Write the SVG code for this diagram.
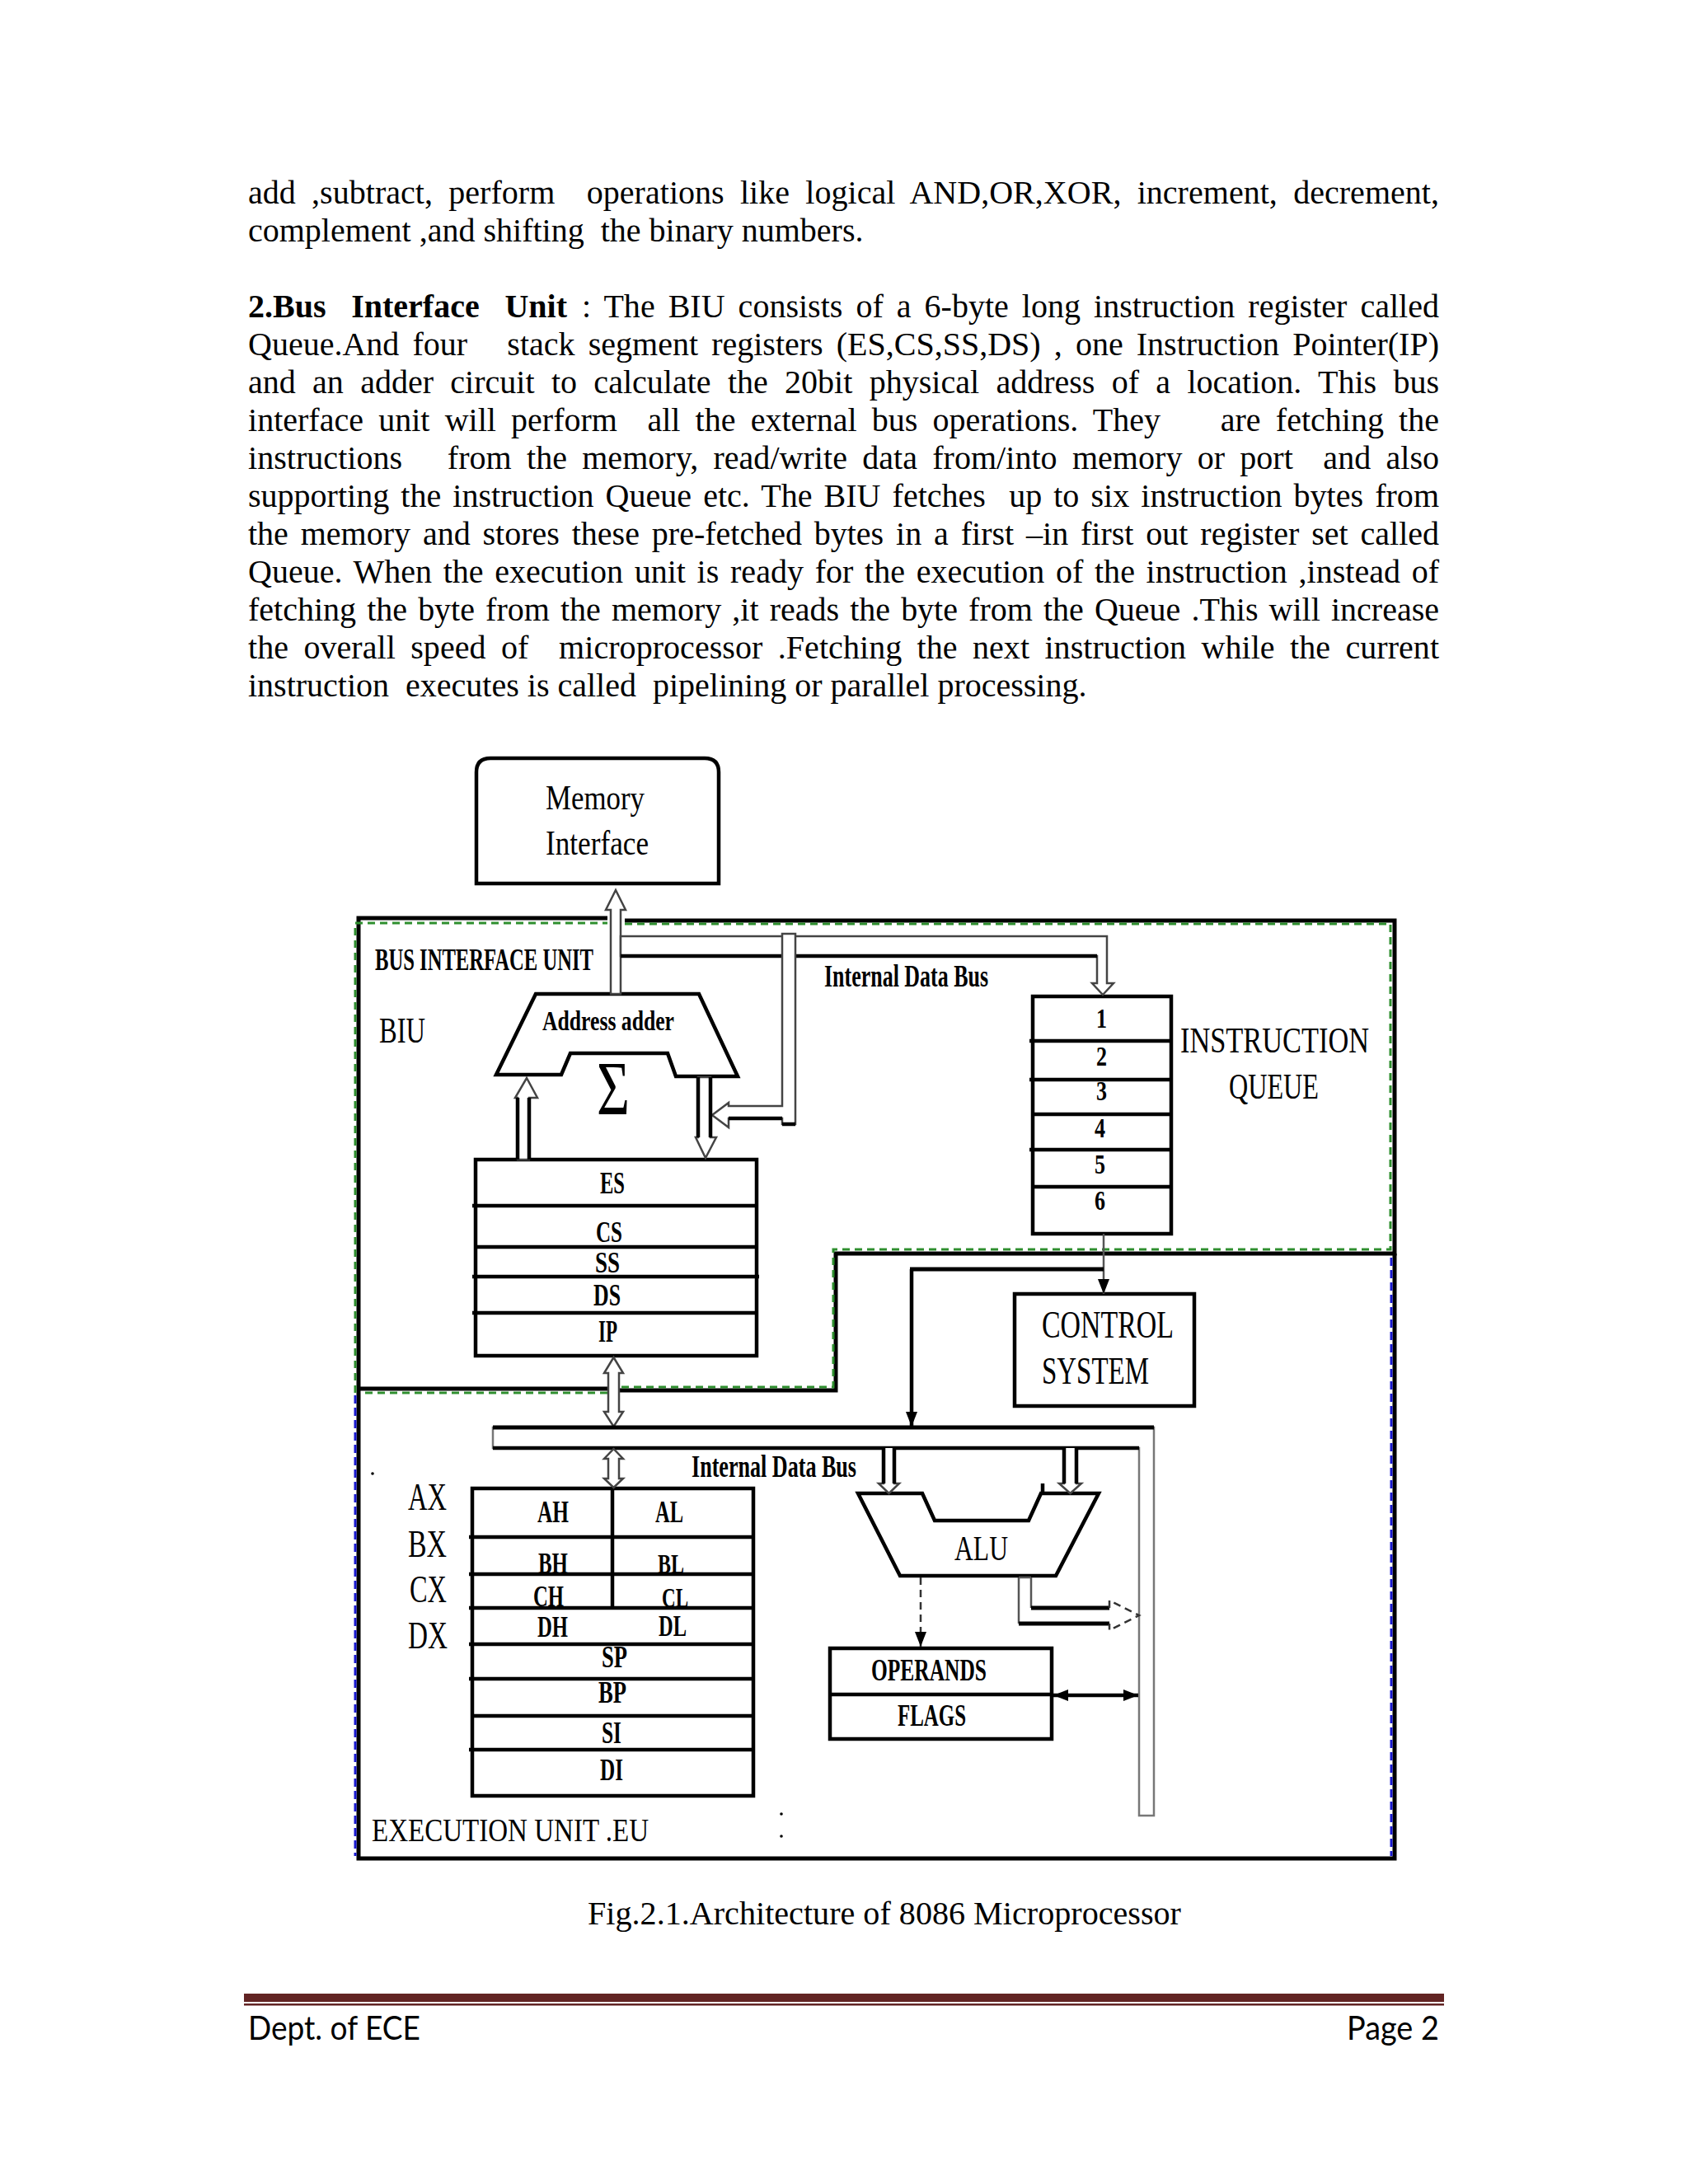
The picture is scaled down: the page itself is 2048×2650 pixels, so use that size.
<svg xmlns="http://www.w3.org/2000/svg" width="2048" height="2650" viewBox="0 0 2048 2650">
<style>
.p{font-family:"Liberation Serif","Times New Roman",serif;font-size:40px;fill:#000;white-space:pre}
.pb{font-weight:bold}
.ft{font-family:Lato,"Liberation Sans",sans-serif;font-size:40px;fill:#000}
.b{font-family:"Liberation Serif","Times New Roman",serif;font-weight:bold;fill:#000}
.r{font-family:"Liberation Serif","Times New Roman",serif;fill:#000}
.box{fill:#fff;stroke:#000;stroke-width:4.5}
.sep{stroke:#000;stroke-width:4.5;fill:none}
.edge{stroke:#000;stroke-width:5;fill:none}
.gd{stroke:#2f8f2f;stroke-width:3;stroke-dasharray:9 6;fill:none}
.bd{stroke:#1a1ad0;stroke-width:3;stroke-dasharray:10 5;fill:none}
.hol{fill:#fff;stroke:#444;stroke-width:2.5}
.thk{stroke:#000;stroke-width:4.5;fill:none}
.thin{stroke:#555;stroke-width:2.5;fill:none}
.dash{stroke:#333;stroke-width:2.5;stroke-dasharray:9 6;fill:none}
.dot{fill:#000}
</style>
<defs>
<marker id="fa" viewBox="0 0 18 14" refX="18" refY="7" markerWidth="18" markerHeight="14" markerUnits="userSpaceOnUse" orient="auto-start-reverse">
<path d="M0,0 L18,7 L0,14 Z" fill="#000"/>
</marker>
</defs>
<rect x="0" y="0" width="2048" height="2650" fill="#fff"/>

<g id="paragraph">
<text class="p" x="301" y="247" word-spacing="9.2" textLength="1445" lengthAdjust="spacing">add ,subtract, perform  operations like logical AND,OR,XOR, increment, decrement,</text>
<text class="p" x="301" y="293">complement ,and shifting  the binary numbers.</text>
<text class="p pb" x="301" y="385" word-spacing="20.7" textLength="387" lengthAdjust="spacing">2.Bus Interface Unit</text>
<text class="p" x="706" y="385" word-spacing="6" textLength="1040" lengthAdjust="spacing">: The BIU consists of a 6-byte long instruction register called</text>
<text class="p" x="301" y="431" word-spacing="6.1" textLength="1445" lengthAdjust="spacing">Queue.And four   stack segment registers (ES,CS,SS,DS) , one Instruction Pointer(IP)</text>
<text class="p" x="301" y="477" word-spacing="10.3" textLength="1445" lengthAdjust="spacing">and an adder circuit to calculate the 20bit physical address of a location. This bus</text>
<text class="p" x="301" y="523" word-spacing="8.2" textLength="1445" lengthAdjust="spacing">interface unit will perform  all the external bus operations. They    are fetching the</text>
<text class="p" x="301" y="569" word-spacing="8.2" textLength="1445" lengthAdjust="spacing">instructions   from the memory, read/write data from/into memory or port  and also</text>
<text class="p" x="301" y="615" word-spacing="4.1" textLength="1445" lengthAdjust="spacing">supporting the instruction Queue etc. The BIU fetches  up to six instruction bytes from</text>
<text class="p" x="301" y="661" word-spacing="4.9" textLength="1445" lengthAdjust="spacing">the memory and stores these pre-fetched bytes in a first –in first out register set called</text>
<text class="p" x="301" y="707" word-spacing="3.7" textLength="1445" lengthAdjust="spacing">Queue. When the execution unit is ready for the execution of the instruction ,instead of</text>
<text class="p" x="301" y="753" word-spacing="3.1" textLength="1445" lengthAdjust="spacing">fetching the byte from the memory ,it reads the byte from the Queue .This will increase</text>
<text class="p" x="301" y="799" word-spacing="8.3" textLength="1445" lengthAdjust="spacing">the overall speed of  microprocessor .Fetching the next instruction while the current</text>
<text class="p" x="301" y="845">instruction  executes is called  pipelining or parallel processing.</text>
</g>

<g id="unit-borders">
<path class="edge" d="M435,1685 L435,1114 L737,1114"/>
<path class="edge" d="M758,1117 L1692,1117 L1692,1521 L1014,1521 L1014,1687 L750,1687"/>
<path class="edge" d="M737,1685 L435,1685"/>
<path class="edge" d="M435,1685 L435,2255 L1692,2255 L1692,1521"/>
<path class="gd" d="M431,1690 L431,1120 L737,1120 M758,1121 L1687,1121 L1687,1516 L1011,1516 L1011,1683 L752,1683 M737,1690 L437,1690"/>
<path class="bd" d="M431,1693 L431,2252 M1688,1526 L1688,2252"/>
</g>

<g id="memory-interface">
<path class="box" d="M578,1072 L578,937 Q578,920 595,920 L855,920 Q872,920 872,937 L872,1072 Z"/>
<text class="r" x="662" y="982" font-size="43" textLength="120" lengthAdjust="spacingAndGlyphs">Memory</text>
<text class="r" x="662" y="1037" font-size="43" textLength="125" lengthAdjust="spacingAndGlyphs">Interface</text>
</g>

<g id="biu-labels">
<text class="b" x="455" y="1177" font-size="38" textLength="265" lengthAdjust="spacingAndGlyphs">BUS INTERFACE UNIT</text>
<text class="r" x="460" y="1265" font-size="45" textLength="56" lengthAdjust="spacingAndGlyphs">BIU</text>
<text class="b" x="1000" y="1197" font-size="37" textLength="199" lengthAdjust="spacingAndGlyphs">Internal Data Bus</text>
</g>

<g id="address-adder">
<path class="box" d="M650,1206 L848,1206 L895,1306 L820,1306 L810,1278 L692,1278 L681,1304 L602,1304 Z" stroke-linejoin="miter"/>
<text class="b" x="658" y="1250" font-size="34" textLength="160" lengthAdjust="spacingAndGlyphs">Address adder</text>
<text class="r" x="724" y="1352" font-size="94" textLength="40" lengthAdjust="spacingAndGlyphs">Σ</text>
</g>

<g id="instruction-queue">
<rect class="box" x="1253" y="1209" width="168" height="288"/>
<path class="sep" d="M1249,1263 L1421,1263 M1249,1310 L1421,1310 M1253,1352 L1421,1352 M1249,1395 L1421,1395 M1251,1440 L1421,1440"/>
<text class="b" x="1330" y="1247" font-size="34" textLength="13" lengthAdjust="spacingAndGlyphs">1</text>
<text class="b" x="1330" y="1293" font-size="34" textLength="13" lengthAdjust="spacingAndGlyphs">2</text>
<text class="b" x="1330" y="1335" font-size="34" textLength="13" lengthAdjust="spacingAndGlyphs">3</text>
<text class="b" x="1328" y="1380" font-size="34" textLength="13" lengthAdjust="spacingAndGlyphs">4</text>
<text class="b" x="1328" y="1424" font-size="34" textLength="13" lengthAdjust="spacingAndGlyphs">5</text>
<text class="b" x="1328" y="1468" font-size="34" textLength="13" lengthAdjust="spacingAndGlyphs">6</text>
<text class="r" x="1432" y="1277" font-size="45" textLength="229" lengthAdjust="spacingAndGlyphs">INSTRUCTION</text>
<text class="r" x="1491" y="1333" font-size="45" textLength="109" lengthAdjust="spacingAndGlyphs">QUEUE</text>
</g>

<g id="segment-registers">
<rect class="box" x="577" y="1407" width="341" height="238"/>
<path class="sep" d="M573,1463 L918,1463 M577,1513 L918,1513 M573,1549 L921,1549 M573,1593 L918,1593"/>
<text class="b" x="728" y="1448" font-size="38" textLength="30" lengthAdjust="spacingAndGlyphs">ES</text>
<text class="b" x="723" y="1507" font-size="36" textLength="32" lengthAdjust="spacingAndGlyphs">CS</text>
<text class="b" x="722" y="1544" font-size="36" textLength="30" lengthAdjust="spacingAndGlyphs">SS</text>
<text class="b" x="720" y="1584" font-size="38" textLength="33" lengthAdjust="spacingAndGlyphs">DS</text>
<text class="b" x="726" y="1628" font-size="38" textLength="23" lengthAdjust="spacingAndGlyphs">IP</text>
</g>

<g id="control-system">
<rect class="box" x="1231" y="1570" width="218" height="136"/>
<text class="r" x="1264" y="1623" font-size="47" textLength="160" lengthAdjust="spacingAndGlyphs">CONTROL</text>
<text class="r" x="1264" y="1679" font-size="47" textLength="130" lengthAdjust="spacingAndGlyphs">SYSTEM</text>
</g>

<g id="general-registers">
<text class="b" x="653" y="1909" font-size="35" textLength="36" lengthAdjust="spacingAndGlyphs">BH</text>
<text class="b" x="798" y="1909" font-size="34" textLength="32" lengthAdjust="spacingAndGlyphs">BL</text>
<text class="b" x="647" y="1949" font-size="35" textLength="37" lengthAdjust="spacingAndGlyphs">CH</text>
<text class="b" x="803" y="1950" font-size="34" textLength="32" lengthAdjust="spacingAndGlyphs">CL</text>
<rect x="573" y="1806" width="341" height="373" fill="none" stroke="#000" stroke-width="4.5"/>
<path class="sep" d="M569,1865 L914,1865 M569,1910 L914,1910 M569,1951 L914,1951 M569,1995 L914,1995 M569,2037 L914,2037 M573,2082 L914,2082 M569,2123 L914,2123 M743,1806 L743,1951"/>
<text class="b" x="652" y="1847" font-size="38" textLength="38" lengthAdjust="spacingAndGlyphs">AH</text>
<text class="b" x="795" y="1847" font-size="38" textLength="34" lengthAdjust="spacingAndGlyphs">AL</text>
<text class="b" x="652" y="1986" font-size="36" textLength="37" lengthAdjust="spacingAndGlyphs">DH</text>
<text class="b" x="799" y="1985" font-size="35" textLength="34" lengthAdjust="spacingAndGlyphs">DL</text>
<text class="b" x="730" y="2023" font-size="38" textLength="31" lengthAdjust="spacingAndGlyphs">SP</text>
<text class="b" x="726" y="2066" font-size="38" textLength="34" lengthAdjust="spacingAndGlyphs">BP</text>
<text class="b" x="730" y="2115" font-size="38" textLength="24" lengthAdjust="spacingAndGlyphs">SI</text>
<text class="b" x="728" y="2160" font-size="38" textLength="28" lengthAdjust="spacingAndGlyphs">DI</text>
<text class="r" x="495" y="1832" font-size="46" textLength="47" lengthAdjust="spacingAndGlyphs">AX</text>
<text class="r" x="495" y="1889" font-size="46" textLength="47" lengthAdjust="spacingAndGlyphs">BX</text>
<text class="r" x="497" y="1944" font-size="46" textLength="45" lengthAdjust="spacingAndGlyphs">CX</text>
<text class="r" x="495" y="2000" font-size="46" textLength="48" lengthAdjust="spacingAndGlyphs">DX</text>
</g>

<g id="alu">
<path class="box" d="M1041,1812 L1119,1812 L1134,1845 L1248,1845 L1263,1812 L1333,1812 L1281,1912 L1092,1912 Z"/>
<path class="thk" d="M1265,1800 L1265,1812" stroke-width="3"/>
<text class="r" x="1158" y="1893" font-size="43" textLength="65" lengthAdjust="spacingAndGlyphs">ALU</text>
</g>

<g id="operands-flags">
<rect class="box" x="1007" y="2000" width="269" height="110"/>
<path class="sep" d="M1007,2056 L1276,2056"/>
<text class="b" x="1057" y="2039" font-size="38" textLength="140" lengthAdjust="spacingAndGlyphs">OPERANDS</text>
<text class="b" x="1089" y="2094" font-size="38" textLength="83" lengthAdjust="spacingAndGlyphs">FLAGS</text>
</g>

<g id="eu-labels">
<text class="b" x="839" y="1792" font-size="37" textLength="200" lengthAdjust="spacingAndGlyphs">Internal Data Bus</text>
<text class="r" x="451" y="2234" font-size="40" textLength="336" lengthAdjust="spacingAndGlyphs">EXECUTION UNIT .EU</text>
<circle class="dot" cx="452" cy="1788" r="1.8"/>
<circle class="dot" cx="948" cy="2201" r="1.8"/>
<circle class="dot" cx="948" cy="2228" r="1.8"/>
</g>

<g id="connectors">
<polygon class="hol" points="741,1206 741,1104 735,1104 747,1080 759,1104 753,1104 753,1206"/>
<polygon class="hol" points="753,1136 1343,1136 1343,1193 1351,1193 1338,1207 1325,1193 1331,1193 1331,1160 753,1160"/>
<path class="thk" d="M753,1160 L1331,1160"/>
<polygon class="hol" points="949,1133 965,1133 965,1364 949,1364 949,1357 884,1357 884,1368 864,1353 884,1338 884,1342 949,1342"/>
<path class="thk" d="M884,1357 L949,1357 M949,1364 L965,1364"/>
<polygon class="hol" points="628,1407 628,1332 625,1332 639,1308 652,1332 642,1332 642,1407"/>
<path class="thk" d="M628,1332 L628,1407 M642,1332 L642,1407"/>
<polygon class="hol" points="847,1307 847,1380 844,1380 856,1405 869,1380 862,1380 862,1307"/>
<path class="thk" d="M847,1307 L847,1380 M862,1307 L862,1380"/>
<polygon class="hol" points="738,1666 733,1666 744.5,1647 756,1666 751,1666 751,1713 756,1713 744.5,1731 733,1713 738,1713"/>
<polygon points="598,1732 1400,1732 1400,2203 1382,2203 1382,1757 598,1757" fill="#fff" stroke="#777" stroke-width="2.5"/>
<path class="edge" d="M598,1732 L1400,1732"/>
<path class="thk" d="M598,1757 L1382,1757"/>
<polygon class="hol" points="738,1770 733,1770 744.5,1758 756,1770 751,1770 751,1794 756,1794 744.5,1805 733,1794 738,1794" stroke="#333"/>
<path class="thin" d="M1339,1497 L1339,1570" marker-end="url(#fa)"/>
<path class="edge" d="M1339,1540 L1104,1540"/>
<path class="thk" d="M1106,1540 L1106,1731" stroke-width="3" marker-end="url(#fa)"/>
<path class="hol" d="M1072,1757 L1072,1800 L1066,1800 L1078.5,1812 L1091,1800 L1085,1800 L1085,1757"/>
<path class="thk" d="M1072,1757 L1072,1800 M1085,1757 L1085,1800" stroke-width="3.5"/>
<path class="hol" d="M1291,1757 L1291,1800 L1285,1800 L1298.5,1812 L1312,1800 L1306,1800 L1306,1757"/>
<path class="thk" d="M1291,1757 L1291,1800 M1306,1757 L1306,1800" stroke-width="3.5"/>
<path class="dash" d="M1117,1914 L1117,1998" marker-end="url(#fa)"/>
<path d="M1236,1914 L1236,1970 L1346,1970 L1346,1978 L1382,1960 L1346,1942 L1346,1951 L1251,1951 L1251,1914 Z" fill="#fff" stroke="none"/>
<path class="thin" d="M1236,1914 L1236,1970 M1251,1914 L1251,1951 M1236,1914 L1251,1914"/>
<path class="edge" d="M1251,1951 L1346,1951 M1236,1970 L1346,1970"/>
<path class="dash" d="M1346,1951 L1346,1942 L1382,1960 L1346,1978 L1346,1970" stroke-dasharray="6 4"/>
<path class="thk" d="M1278,2057 L1381,2057" marker-start="url(#fa)" marker-end="url(#fa)"/>
</g>

<g id="caption">
<text class="p" x="713" y="2335" textLength="720" lengthAdjust="spacingAndGlyphs">Fig.2.1.Architecture of 8086 Microprocessor</text>
</g>

<g id="footer">
<rect x="296" y="2419" width="1456" height="10" fill="#622423"/>
<rect x="296" y="2431" width="1456" height="2.5" fill="#622423"/>
<text class="ft" x="301" y="2475" textLength="209" lengthAdjust="spacingAndGlyphs">Dept. of ECE</text>
<text class="ft" x="1634" y="2475" textLength="112" lengthAdjust="spacingAndGlyphs">Page 2</text>
</g>
</svg>
